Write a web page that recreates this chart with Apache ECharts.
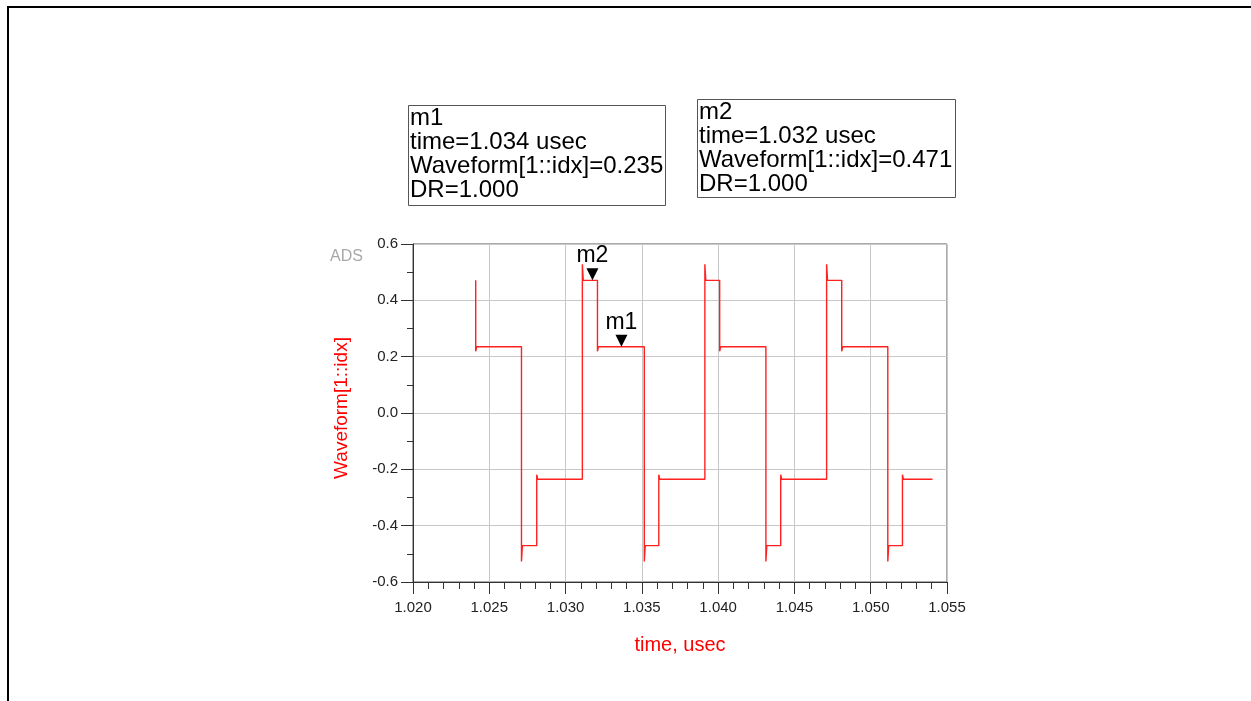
<!DOCTYPE html>
<html>
<head>
<meta charset="utf-8">
<title>Waveform[1::idx]</title>
<script src="https://cdn.jsdelivr.net/npm/echarts@6/dist/echarts.min.js"></script>
<style>
  html, body { margin: 0; padding: 0; background: #fff; }
  #chart { width: 1251px; height: 701px; }
</style>
</head>
<body>
<div id="chart"></div>
<script>
// Stepped waveform: each edge switches to a new level, with a short overshoot spike
const startPoint = [1.02411, 0.471];
const edgeTimes = [1.02411, 1.02711, 1.02811, 1.03110, 1.03209, 1.03516, 1.03611,
                   1.03913, 1.04010, 1.04313, 1.04410, 1.04711, 1.04810, 1.05112, 1.05208];
const edgePeaks = [0.219, -0.527, -0.219, 0.528, 0.219, -0.527, -0.219,
                   0.528, 0.219, -0.527, -0.219, 0.528, 0.219, -0.527, -0.219];
const edgeLevels = [0.235, -0.471, -0.235, 0.471, 0.235, -0.471, -0.235,
                    0.471, 0.235, -0.471, -0.235, 0.471, 0.235, -0.471, -0.235];
const endTime = 1.05405;

// Markers
const markerNames = ['m1', 'm2'];
const markerTimes = [1.03366, 1.03176];
const markerValues = [0.235, 0.471];
const markerDR = [1.000, 1.000];

// Axis ticks
const xTicks = [1.020, 1.025, 1.030, 1.035, 1.040, 1.045, 1.050, 1.055];
const yTicks = [-0.6, -0.4, -0.2, 0.0, 0.2, 0.4, 0.6];

// Build the polyline from the step description
const wave = [startPoint.slice()];
let prev = startPoint[1];
for (let i = 0; i < edgeTimes.length; i++) {
  const t = edgeTimes[i];
  wave.push([t, prev]);
  wave.push([t, edgePeaks[i]]);
  wave.push([t + 0.00006, edgeLevels[i]]);
  prev = edgeLevels[i];
}
wave.push([endTime, prev]);

const FONT = '"Liberation Sans", Arial, sans-serif';

const chart = echarts.init(document.getElementById('chart'), null, { renderer: 'canvas' });

// Readout boxes for the markers
const boxLayout = [
  { x: 408, y: 105, w: 257, h: 100 },
  { x: 697, y: 99, w: 258, h: 98 }
];
const boxGraphics = markerNames.map((name, i) => ({
  type: 'group',
  children: [
    {
      type: 'rect',
      shape: { x: boxLayout[i].x + 0.5, y: boxLayout[i].y + 0.5, width: boxLayout[i].w, height: boxLayout[i].h },
      style: { fill: '#fff', stroke: '#555', lineWidth: 1 }
    },
    {
      type: 'text',
      style: {
        x: boxLayout[i].x + 2,
        y: boxLayout[i].y + 1,
        text: name + '\ntime=' + markerTimes[i].toFixed(3) + ' usec\nWaveform[1::idx]=' +
              markerValues[i].toFixed(3) + '\nDR=' + markerDR[i].toFixed(3),
        font: '24px ' + FONT,
        lineHeight: 24,
        fill: '#000',
        textVerticalAlign: 'top'
      }
    }
  ]
}));

const option = {
  animation: false,
  backgroundColor: '#fff',
  grid: {
    left: 413, right: 304, top: 244, bottom: 119,
    show: true, borderColor: '#555', borderWidth: 1, backgroundColor: 'transparent'
  },
  xAxis: {
    type: 'value',
    min: xTicks[0], max: xTicks[xTicks.length - 1], interval: 0.005,
    name: 'time, usec', nameLocation: 'middle', nameGap: 53,
    nameTextStyle: { color: '#ff0000', fontSize: 20, fontFamily: FONT },
    axisLine: { show: true, onZero: false, lineStyle: { color: '#333', width: 1 } },
    axisTick: { show: true, length: 12, lineStyle: { color: '#333' } },
    minorTick: { show: true, splitNumber: 5, length: 7, lineStyle: { color: '#333' } },
    axisLabel: { color: '#222', fontSize: 15, fontFamily: FONT, margin: 18,
                 formatter: v => v.toFixed(3) },
    splitLine: { show: true, lineStyle: { color: '#c8c8c8', width: 1 } }
  },
  yAxis: {
    type: 'value',
    min: yTicks[0], max: yTicks[yTicks.length - 1], interval: 0.2,
    name: 'Waveform[1::idx]', nameLocation: 'middle', nameGap: 62, nameRotate: 90,
    nameTextStyle: { color: '#ff0000', fontSize: 19, fontFamily: FONT, padding: [0, 0, 0, 10] },
    axisLine: { show: true, onZero: false, lineStyle: { color: '#333', width: 1 } },
    axisTick: { show: true, length: 12, lineStyle: { color: '#333' } },
    minorTick: { show: true, splitNumber: 2, length: 6, lineStyle: { color: '#333' } },
    axisLabel: { color: '#222', fontSize: 15, fontFamily: FONT, margin: 15,
                 formatter: v => v.toFixed(1) },
    splitLine: { show: true, lineStyle: { color: '#c8c8c8', width: 1 } }
  },
  series: [
    {
      type: 'line',
      data: wave,
      showSymbol: false,
      lineStyle: { color: '#ff2020', width: 1.4 },
      z: 3
    },
    {
      type: 'scatter',
      data: markerNames.map((n, i) => ({ name: n, value: [markerTimes[i], markerValues[i]] })),
      symbol: 'path://M0,0 L10,0 L5,10 Z',
      symbolSize: [12, 12],
      symbolOffset: [0, -6],
      itemStyle: { color: '#000', opacity: 1 },
      label: {
        show: true, position: 'top', distance: 1,
        formatter: p => p.name,
        color: '#000', fontSize: 23, fontFamily: FONT
      },
      emphasis: { disabled: true },
      z: 5
    }
  ],
  graphic: [
    {
      type: 'polyline',
      shape: { points: [[8, 701], [8, 7], [1251, 7]] },
      style: { stroke: '#000', lineWidth: 2, fill: null }
    },
    {
      type: 'text',
      style: { x: 330, y: 249, text: 'ADS', font: '16px "Liberation Sans Narrow", ' + FONT,
               fill: '#a8a8a8' }
    }
  ].concat(boxGraphics)
};

chart.setOption(option);
</script>
</body>
</html>
